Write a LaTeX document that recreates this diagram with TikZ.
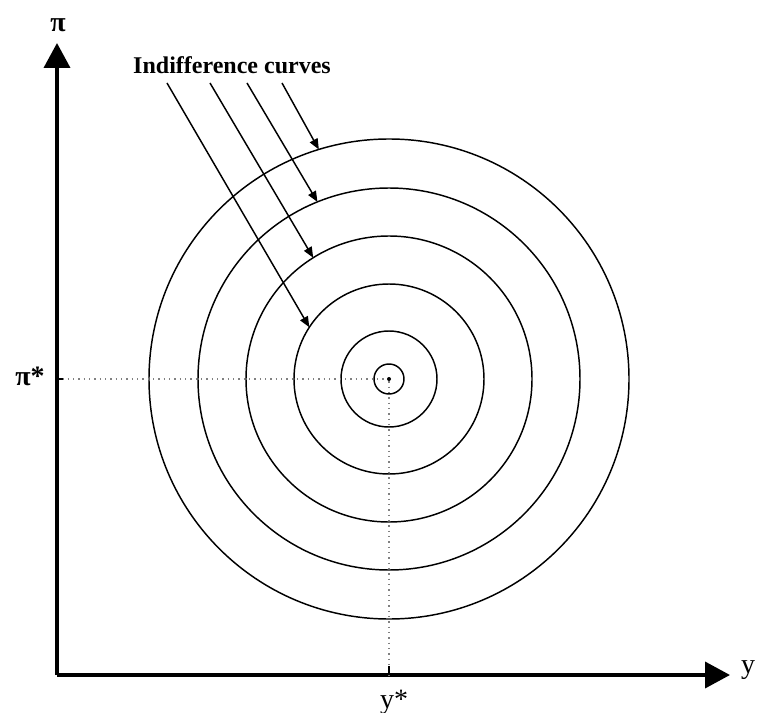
\documentclass[tikz,border=0pt]{standalone}
\usepackage{fontspec}
\setmainfont{Liberation Serif}
\usetikzlibrary{arrows.meta,positioning}

\begin{document}
\begin{tikzpicture}[
  x=0.75pt, y=-0.75pt,
  ring/.style={draw, circle, line width=1.1pt, inner sep=0pt, outer sep=0pt},
  axis/.style={line width=2.8pt, -{Triangle[length=18.75pt, width=19.5pt]}},
  arr/.style={line width=1.1pt, -{Triangle[length=8pt, width=6.5pt]}},
  guide/.style={dash pattern=on 1pt off 3pt, line width=1pt, gray},
  lab/.style={font=\fontsize{21}{23}\selectfont, inner sep=0pt},
]
\useasboundingbox (0,0) rectangle (757,713);

% origin and centre of the rings
\coordinate (o) at (57,675);
\node[circle, fill, inner sep=0pt, minimum size=3pt] (ctr) at (389,379) {};

% indifference curves, from inside out
\node[ring, minimum size=22.5pt] (c1) at (ctr) {};
\node[ring, minimum size=72pt]   (c2) at (ctr) {};
\node[ring, minimum size=142.5pt] (c3) at (ctr) {};
\node[ring, minimum size=214.5pt] (c4) at (ctr) {};
\node[ring, minimum size=286.5pt] (c5) at (ctr) {};
\node[ring, minimum size=360pt]  (c6) at (ctr) {};

% axes
\coordinate (ytop) at (57,43);
\coordinate (xend) at (730,675);
\draw[axis] (o) -- (ytop);
\draw[axis] (o) -- (xend);
\node[lab, font=\bfseries\fontsize{21}{23}\selectfont] (pi) at (58,25) {π};
\node[lab] (ylab) at (748,670) {y};

% optimum
\coordinate (pistar) at (57,379);
\coordinate (ystar) at (389,675);
\draw[guide] (pistar) -- (ctr);
\draw[guide] (ctr) -- (ystar);
\draw[line width=1pt] (pistar) -- ++(6,0);
\draw[line width=1pt] (ystar) -- ++(0,-9);
\node[lab, font=\bfseries\fontsize{21}{23}\selectfont] (pistarlab) at (30,376) {π*};
\node[lab] (ystarlab) at (394,702) {y*};

% label and pointers
\node[font=\bfseries\fontsize{18}{20}\selectfont, inner sep=0pt] (title) at (232,65) {Indifference curves};
\coordinate (s1) at (167,83);
\coordinate (s2) at (210,83);
\coordinate (s3) at (247,83);
\coordinate (s4) at (282,83);
\draw[arr] (s1) -- (c3.147.6);
\draw[arr] (s2) -- (c4.122.9);
\draw[arr] (s3) -- (c5.112.5);
\draw[arr] (s4) -- (c6.107.1);

\end{tikzpicture}
\end{document}
